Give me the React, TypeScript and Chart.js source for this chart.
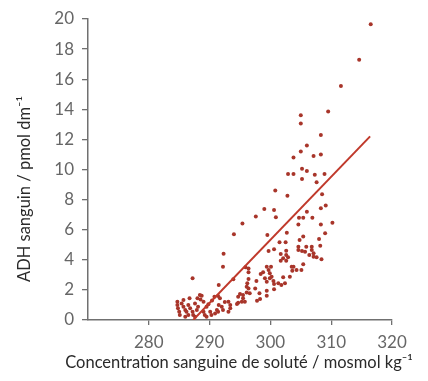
import React, { useEffect, useRef } from 'react';
import { Chart, registerables } from 'chart.js';

Chart.register(...registerables);

// Blood solute concentration (mosmol/kg) for each measurement
const osmolality = [
  316.5, 314.6, 311.6, 309.5, 305.0, 305.0, 308.3, 306.0, 305.0, 303.8,
  307.1, 308.3, 305.2, 306.0, 302.9, 303.8, 307.3, 308.9, 305.2, 307.6,
  300.8, 302.8, 308.5, 299.0, 300.6, 300.9, 297.6, 295.4, 294.0, 292.3,
  302.7, 299.5, 301.5, 302.5, 299.7, 300.6, 302.6, 301.7, 302.6, 302.1,
  302.9, 309.1, 308.3, 306.0, 305.4, 304.7, 306.9, 304.6, 308.3, 310.2,
  309.0, 305.4, 308.0, 304.8, 308.2, 305.9, 306.8, 304.6, 304.6, 305.2,
  305.7, 306.8, 307.1, 306.4, 307.1, 307.6, 308.4, 305.4, 303.8, 304.3,
  305.1, 303.2, 303.5, 303.6, 301.7, 302.6, 299.4, 299.7, 299.9, 300.2,
  298.4, 299.1, 299.4, 299.9, 300.5, 300.6, 301.3, 301.8, 302.1, 302.4,
  296.4, 296.4, 296.4, 296.2, 296.1, 296.4, 296.6, 296.1, 295.5, 295.0,
  294.7, 295.5, 295.8, 295.3, 294.7, 294.5, 297.7, 297.5, 298.2, 298.3,
  299.4, 300.6, 297.8, 299.4, 292.2, 291.5, 293.1, 293.4, 293.4, 293.1,
  292.2, 292.0, 291.5, 291.4, 293.9, 295.9, 298.8, 300.1,
  287.2, 286.7, 288.7, 288.5, 289.0, 284.7, 284.7, 284.8, 285.0, 285.4,
  285.7, 286.0, 285.7, 286.5, 286.8, 287.2, 287.3, 287.6, 287.9, 288.1,
  287.6, 289.5, 290.1, 290.3, 290.9, 291.2, 286.2, 286.5, 286.0, 289.0,
  289.2, 289.5, 285.1, 289.8, 290.4, 290.8, 291.7, 291.4, 292.5, 288.0,
  288.4
];

// Blood ADH (pmol/dm3) for each measurement
const adh = [
  19.65, 17.3, 15.55, 13.85, 13.6, 13.05, 12.3, 11.6, 11.2, 10.8,
  10.9, 11.0, 10.05, 9.9, 9.7, 9.7, 9.65, 9.7, 9.37, 9.15,
  8.6, 8.25, 8.35, 7.38, 7.31, 6.82, 6.87, 6.42, 5.69, 4.4,
  5.8, 5.65, 5.16, 5.16, 4.58, 4.7, 4.6, 4.39, 4.32, 4.1,
  4.17, 7.6, 7.42, 7.2, 6.8, 6.8, 6.8, 6.35, 6.35, 6.47,
  5.76, 5.54, 5.38, 5.32, 4.94, 4.87, 4.87, 4.87, 4.65, 4.58,
  4.54, 4.65, 4.43, 4.32, 4.21, 4.17, 4.03, 3.7, 3.54, 3.32,
  3.32, 2.88, 3.54, 3.28, 3.94, 3.94, 3.54, 3.32, 3.1, 2.88,
  3.06, 2.77, 2.54, 2.77, 2.59, 2.39, 2.44, 2.33, 2.84, 2.44,
  3.43, 3.17, 2.72, 2.44, 2.21, 2.1, 1.77, 1.82, 1.66, 1.73,
  1.55, 1.44, 1.22, 1.22, 1.15, 1.06, 2.59, 2.1, 1.77, 1.4,
  1.61, 2.04, 1.28, 1.95, 3.54, 2.33, 1.22, 1.0, 0.78, 0.55,
  0.66, 0.88, 1.0, 0.55, 2.7, 3.5, 3.17, 3.54,
  2.77, 1.44, 1.61, 1.37, 1.22, 1.22, 1.0, 0.78, 0.55, 1.1,
  0.88, 0.66, 1.33, 1.0, 0.78, 0.55, 0.33, 0.22, 0.66, 0.88,
  1.1, 0.88, 0.55, 0.33, 0.44, 0.66, 0.55, 0.33, 0.22, 0.55,
  0.33, 0.22, 0.33, 1.05, 1.3, 1.55, 1.44, 1.6, 1.2, 1.45,
  1.66
];

// Regression line end points
const fitX = [287.3, 316.4];
const fitY = [0, 12.2];

// Axes
const xMin = 270;
const xMax = 320;
const xStep = 10;
const yMin = 0;
const yMax = 20;
const yStep = 2;

const xTitle = 'Concentration sanguine de soluté / mosmol kg⁻¹';
const yTitle = 'ADH sanguin / pmol dm⁻¹';

const FONT = 'Lato';

const titlePlugin = {
  id: 'axisTitles',
  afterDraw(chart: any) {
    const { ctx, chartArea } = chart;
    ctx.save();
    ctx.fillStyle = '#2a2a2a';
    ctx.font = `16.5px ${FONT}`;
    ctx.textAlign = 'center';
    ctx.textBaseline = 'middle';
    ctx.fillText(xTitle, (chartArea.left + chartArea.right) / 2 - 1, 363);
    ctx.translate(25, 189);
    ctx.rotate(-Math.PI / 2);
    ctx.fillText(yTitle, 0, 0);
    ctx.restore();
  },
};

export default function App() {
  const ref = useRef<HTMLCanvasElement | null>(null);

  useEffect(() => {
    let chart: Chart | null = null;
    let cancelled = false;
    const build = () => {
      if (cancelled || !ref.current) return;
      const points = osmolality.map((x, i) => ({ x, y: adh[i] }));
      const line = fitX.map((x, i) => ({ x, y: fitY[i] }));
      const axisColor = '#707070';
      chart = new Chart(ref.current, {
        type: 'scatter',
        data: {
          datasets: [
            {
              type: 'line',
              data: line,
              borderColor: '#c0392b',
              borderWidth: 2,
              pointRadius: 0,
              fill: false,
              order: 0,
            } as any,
            {
              data: points,
              backgroundColor: '#a8352a',
              borderColor: '#a8352a',
              borderWidth: 0,
              pointRadius: 2,
              order: 1,
            },
          ],
        },
        options: {
          animation: false,
          responsive: false,
          maintainAspectRatio: false,
          layout: { padding: { left: 0, top: 19, right: 36, bottom: 0 } },
          plugins: { legend: { display: false }, tooltip: { enabled: false } },
          scales: {
            x: {
              type: 'linear',
              min: xMin,
              max: xMax,
              ticks: {
                stepSize: xStep,
                color: '#666',
                font: { family: FONT, size: 17 },
                padding: 7,
              },
              afterBuildTicks: (scale: any) => {
                scale.ticks = scale.ticks.filter((t: any) => t.value !== xMin);
              },
              afterFit: (scale: any) => {
                scale.height = 61;
              },
              grid: {
                display: true,
                drawOnChartArea: false,
                drawTicks: true,
                tickLength: 5,
                color: axisColor,
                lineWidth: 1.3,
              },
              border: { display: true, color: axisColor, width: 1.5 },
            },
            y: {
              type: 'linear',
              min: yMin,
              max: yMax,
              ticks: {
                stepSize: yStep,
                color: '#666',
                font: { family: FONT, size: 17 },
                padding: 8,
              },
              afterFit: (scale: any) => {
                scale.width = 88;
              },
              grid: {
                display: true,
                drawOnChartArea: false,
                drawTicks: true,
                tickLength: 6,
                color: axisColor,
                lineWidth: 1.3,
              },
              border: { display: true, color: axisColor, width: 1.5 },
            },
          },
        },
        plugins: [titlePlugin],
      });
    };
    const fonts = (document as any).fonts;
    if (fonts && fonts.load) {
      Promise.all([fonts.load(`16px ${FONT}`), fonts.load(`17px ${FONT}`)])
        .catch(() => null)
        .then(build);
    } else {
      build();
    }
    return () => {
      cancelled = true;
      if (chart) chart.destroy();
    };
  }, []);

  return (
    <div style={{ position: 'fixed', left: 0, top: 0, width: 428, height: 381, background: '#fff' }}>
      <canvas ref={ref} width={428} height={381} style={{ display: 'block', width: 428, height: 381 }} />
    </div>
  );
}
